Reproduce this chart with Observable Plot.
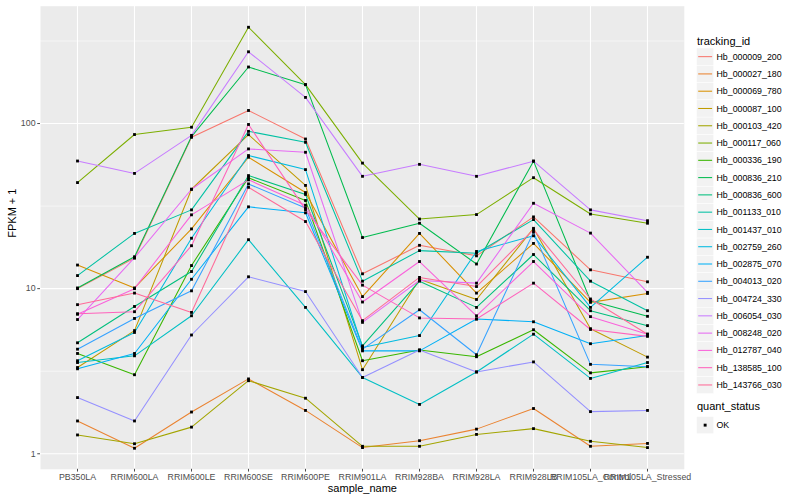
<!DOCTYPE html>
<html>
<head>
<meta charset="utf-8">
<script src="https://cdn.jsdelivr.net/npm/d3@7"></script>
<script src="https://cdn.jsdelivr.net/npm/@observablehq/plot@0.6"></script>
<style>
  body { margin: 0; background: white; }
  #wrap { position: relative; width: 800px; height: 500px; font-family: "Liberation Sans", Arial, Helvetica, sans-serif; }
  #legend { position: absolute; left: 0; top: 0; pointer-events: none; }
</style>
</head>
<body>
<div id="wrap"></div>
<script>
const samples = ["PB350LA","RRIM600LA","RRIM600LE","RRIM600SE","RRIM600PE","RRIM901LA","RRIM928BA","RRIM928LA","RRIM928LB","RRIM105LA_Control","RRIM105LA_Stressed"];
const trackingIds = ["Hb_000009_200","Hb_000027_180","Hb_000069_780","Hb_000087_100","Hb_000103_420","Hb_000117_060","Hb_000336_190","Hb_000836_210","Hb_000836_600","Hb_001133_010","Hb_001437_010","Hb_002759_260","Hb_002875_070","Hb_004013_020","Hb_004724_330","Hb_006054_030","Hb_008248_020","Hb_012787_040","Hb_138585_100","Hb_143766_030"];
const yTicks = [1, 10, 100];

// FPKM + 1 per sample, one array per tracking_id
const hb000009_200 = [10.0, 15.3, 82.5, 120, 80.6, 12.3, 18.3, 15.8, 27.2, 13.0, 11.0];
const hb000027_180 = [1.58, 1.08, 1.79, 2.84, 1.83, 1.09, 1.20, 1.41, 1.88, 1.11, 1.155];
const hb000069_780 = [13.9, 10.1, 23, 62.5, 38.2, 8.95, 21.6, 9.4, 18.8, 8.26, 9.35];
const hb000087_100 = [3.33, 5.57, 40, 85.6, 42.2, 3.23, 11.4, 8.6, 23.2, 5.72, 3.85];
const hb000103_420 = [1.30, 1.15, 1.45, 2.77, 2.17, 1.11, 1.11, 1.31, 1.42, 1.19, 1.09];
const hb000117_060 = [43.9, 85.8, 95, 383, 172, 57.6, 26.4, 28.1, 47.0, 28.3, 24.9];
const hb000336_190 = [4.05, 3.01, 13.8, 46.9, 34.2, 3.66, 4.25, 3.87, 5.64, 3.09, 3.37];
const hb000836_210 = [10.1, 15.6, 83.4, 220, 172, 20.4, 24.9, 14.1, 59.2, 8.44, 6.8];
const hb000836_600 = [4.7, 7.8, 12.7, 48.4, 37.2, 4.5, 11.1, 7.7, 16.1, 7.35, 5.97];
const hb001133_010 = [12.0, 21.6, 30, 89.7, 77, 11.1, 17.0, 16.4, 26.2, 11.1, 7.35];
const hb001437_010 = [3.57, 3.92, 6.85, 19.8, 7.7, 2.9, 1.99, 3.13, 5.3, 2.86, 3.57];
const hb002759_260 = [3.66, 5.43, 20.2, 64, 52.6, 4.4, 5.2, 16.8, 20.9, 7.7, 15.5];
const hb002875_070 = [3.27, 4.05, 11.4, 31.3, 28.8, 4.2, 4.2, 6.55, 6.3, 4.64, 5.2];
const hb004013_020 = [4.3, 6.6, 9.7, 43.1, 30.8, 4.3, 7.45, 3.98, 22.0, 3.48, 3.37];
const hb004724_330 = [2.19, 1.58, 5.24, 11.8, 9.6, 2.9, 4.25, 3.13, 3.6, 1.80, 1.83];
const hb006054_030 = [59.3, 49.9, 84.8, 272, 144, 47.9, 56.6, 47.9, 59.2, 30, 25.8];
const hb008248_020 = [6.5, 15.4, 40, 70.2, 67, 6.25, 11.2, 10.8, 32.9, 21.7, 9.5];
const hb012787_040 = [7.0, 10.0, 28, 45.6, 32, 8.3, 14.6, 6.85, 14.6, 6.77, 5.3];
const hb138585_100 = [7.05, 7.25, 18.2, 98.7, 30.1, 10.5, 6.65, 6.55, 10.8, 5.66, 5.14];
const hb143766_030 = [8.0, 9.4, 7.18, 41.1, 25.5, 6.4, 11.7, 10.3, 22.8, 8.66, 5.3];

const seriesValues = [hb000009_200, hb000027_180, hb000069_780, hb000087_100, hb000103_420, hb000117_060, hb000336_190, hb000836_210, hb000836_600, hb001133_010, hb001437_010, hb002759_260, hb002875_070, hb004013_020, hb004724_330, hb006054_030, hb008248_020, hb012787_040, hb138585_100, hb143766_030];

const data = [];
trackingIds.forEach((id, i) => samples.forEach((s, j) => data.push({id, sample: s, value: seriesValues[i][j], status: "OK"})));

// ggplot2 hue palette (polar CIELUV, c=100, l=65)
function hclLuv(h, c, l) {
  const Xn = 95.047, Yn = 100, Zn = 108.883;
  const den = Xn + 15 * Yn + 3 * Zn;
  const un = 4 * Xn / den, vn = 9 * Yn / den;
  const hr = h * Math.PI / 180;
  const U = c * Math.cos(hr), V = c * Math.sin(hr);
  const Y = l > 8 ? Yn * Math.pow((l + 16) / 116, 3) : Yn * l / 903.3;
  const u = U / (13 * l) + un, v = V / (13 * l) + vn;
  const X = Y * 9 * u / (4 * v);
  const Z = Y * (12 - 3 * u - 20 * v) / (4 * v);
  const x = X / 100, y = Y / 100, z = Z / 100;
  let r = 3.240479 * x - 1.537150 * y - 0.498535 * z;
  let g = -0.969256 * x + 1.875992 * y + 0.041556 * z;
  let b = 0.055648 * x - 0.204043 * y + 1.057311 * z;
  const gam = t => { t = t <= 0.0031308 ? 12.92 * t : 1.055 * Math.pow(t, 1 / 2.4) - 0.055; return Math.round(Math.max(0, Math.min(1, t)) * 255); };
  return d3.rgb(gam(r), gam(g), gam(b)).formatHex();
}
const n = trackingIds.length;
const colors = trackingIds.map((_, i) => hclLuv(15 + i * (360 / n), 100, 65));

const lv = data.map(d => Math.log10(d.value));
const lo = d3.min(lv), hi = d3.max(lv), ex = (hi - lo) * 0.05;
const yDomain = [Math.pow(10, lo - ex), Math.pow(10, hi + ex)];

const font = '"Liberation Sans", Arial, Helvetica, sans-serif';

const chart = Plot.plot({
  width: 800,
  height: 500,
  marginLeft: 40,
  marginRight: 116.2,
  marginTop: 5.7,
  marginBottom: 31.2,
  style: {fontFamily: font, background: "white"},
  x: {type: "point", domain: samples, padding: 0.6},
  y: {type: "log", domain: yDomain},
  color: {domain: trackingIds, range: colors},
  marks: [
    Plot.frame({fill: "#EBEBEB", stroke: null}),
    Plot.ruleY([Math.sqrt(10), Math.pow(10, 1.5), Math.pow(10, 2.5)], {stroke: "white", strokeWidth: 0.55}),
    Plot.ruleY(yTicks, {stroke: "white", strokeWidth: 1.1}),
    Plot.ruleX(samples, {stroke: "white", strokeWidth: 1.1}),
    Plot.line(data, {x: "sample", y: "value", z: "id", stroke: "id", strokeWidth: 1.05}),
    Plot.dot(data, {x: "sample", y: "value", symbol: "square", r: 1.6, fill: "black", stroke: null}),
    Plot.axisY({ticks: yTicks, tickFormat: d => String(d), tickSize: 2.75, tickPadding: 2.2, fontSize: 8.8, color: "#4D4D4D", label: null}),
    Plot.axisX({tickSize: 2.75, tickPadding: 1.2, fontSize: 8.8, color: "#4D4D4D", label: null}),
    Plot.text(["FPKM + 1"], {frameAnchor: "left", dx: -28, rotate: -90, text: d => d, fontSize: 11, fill: "black"}),
    Plot.text(["sample_name"], {frameAnchor: "bottom", dy: 23, text: d => d, fontSize: 11, fill: "black"})
  ]
});

const wrap = document.getElementById("wrap");
wrap.appendChild(chart);

// Legends
const svg = d3.select(wrap).append("svg").attr("id", "legend").attr("width", 800).attr("height", 500)
  .style("font-family", font);
const key = 17.28;
svg.append("text").attr("x", 697).attr("y", 44.5).attr("font-size", 11).attr("fill", "black").text("tracking_id");
trackingIds.forEach((id, i) => {
  const y0 = 48 + i * key;
  svg.append("rect").attr("x", 696.5).attr("y", y0).attr("width", key).attr("height", key)
    .attr("fill", "#F2F2F2").attr("stroke", "white").attr("stroke-width", 0.5);
  svg.append("line").attr("x1", 698.2).attr("x2", 712.1).attr("y1", y0 + key / 2).attr("y2", y0 + key / 2)
    .attr("stroke", colors[i]).attr("stroke-width", 1.05);
  svg.append("text").attr("x", 716.5).attr("y", y0 + key / 2).attr("dy", "0.35em").attr("font-size", 8.8)
    .attr("fill", "black").text(id);
});
svg.append("text").attr("x", 697).attr("y", 410).attr("font-size", 11).attr("fill", "black").text("quant_status");
const qy = 416.5;
svg.append("rect").attr("x", 696.5).attr("y", qy).attr("width", key).attr("height", key)
  .attr("fill", "#F2F2F2").attr("stroke", "white").attr("stroke-width", 0.5);
svg.append("rect").attr("x", 696.5 + key / 2 - 1.45).attr("y", qy + key / 2 - 1.45).attr("width", 2.9).attr("height", 2.9).attr("fill", "black");
svg.append("text").attr("x", 716.5).attr("y", qy + key / 2).attr("dy", "0.35em").attr("font-size", 8.8).attr("fill", "black").text("OK");
</script>
</body>
</html>
